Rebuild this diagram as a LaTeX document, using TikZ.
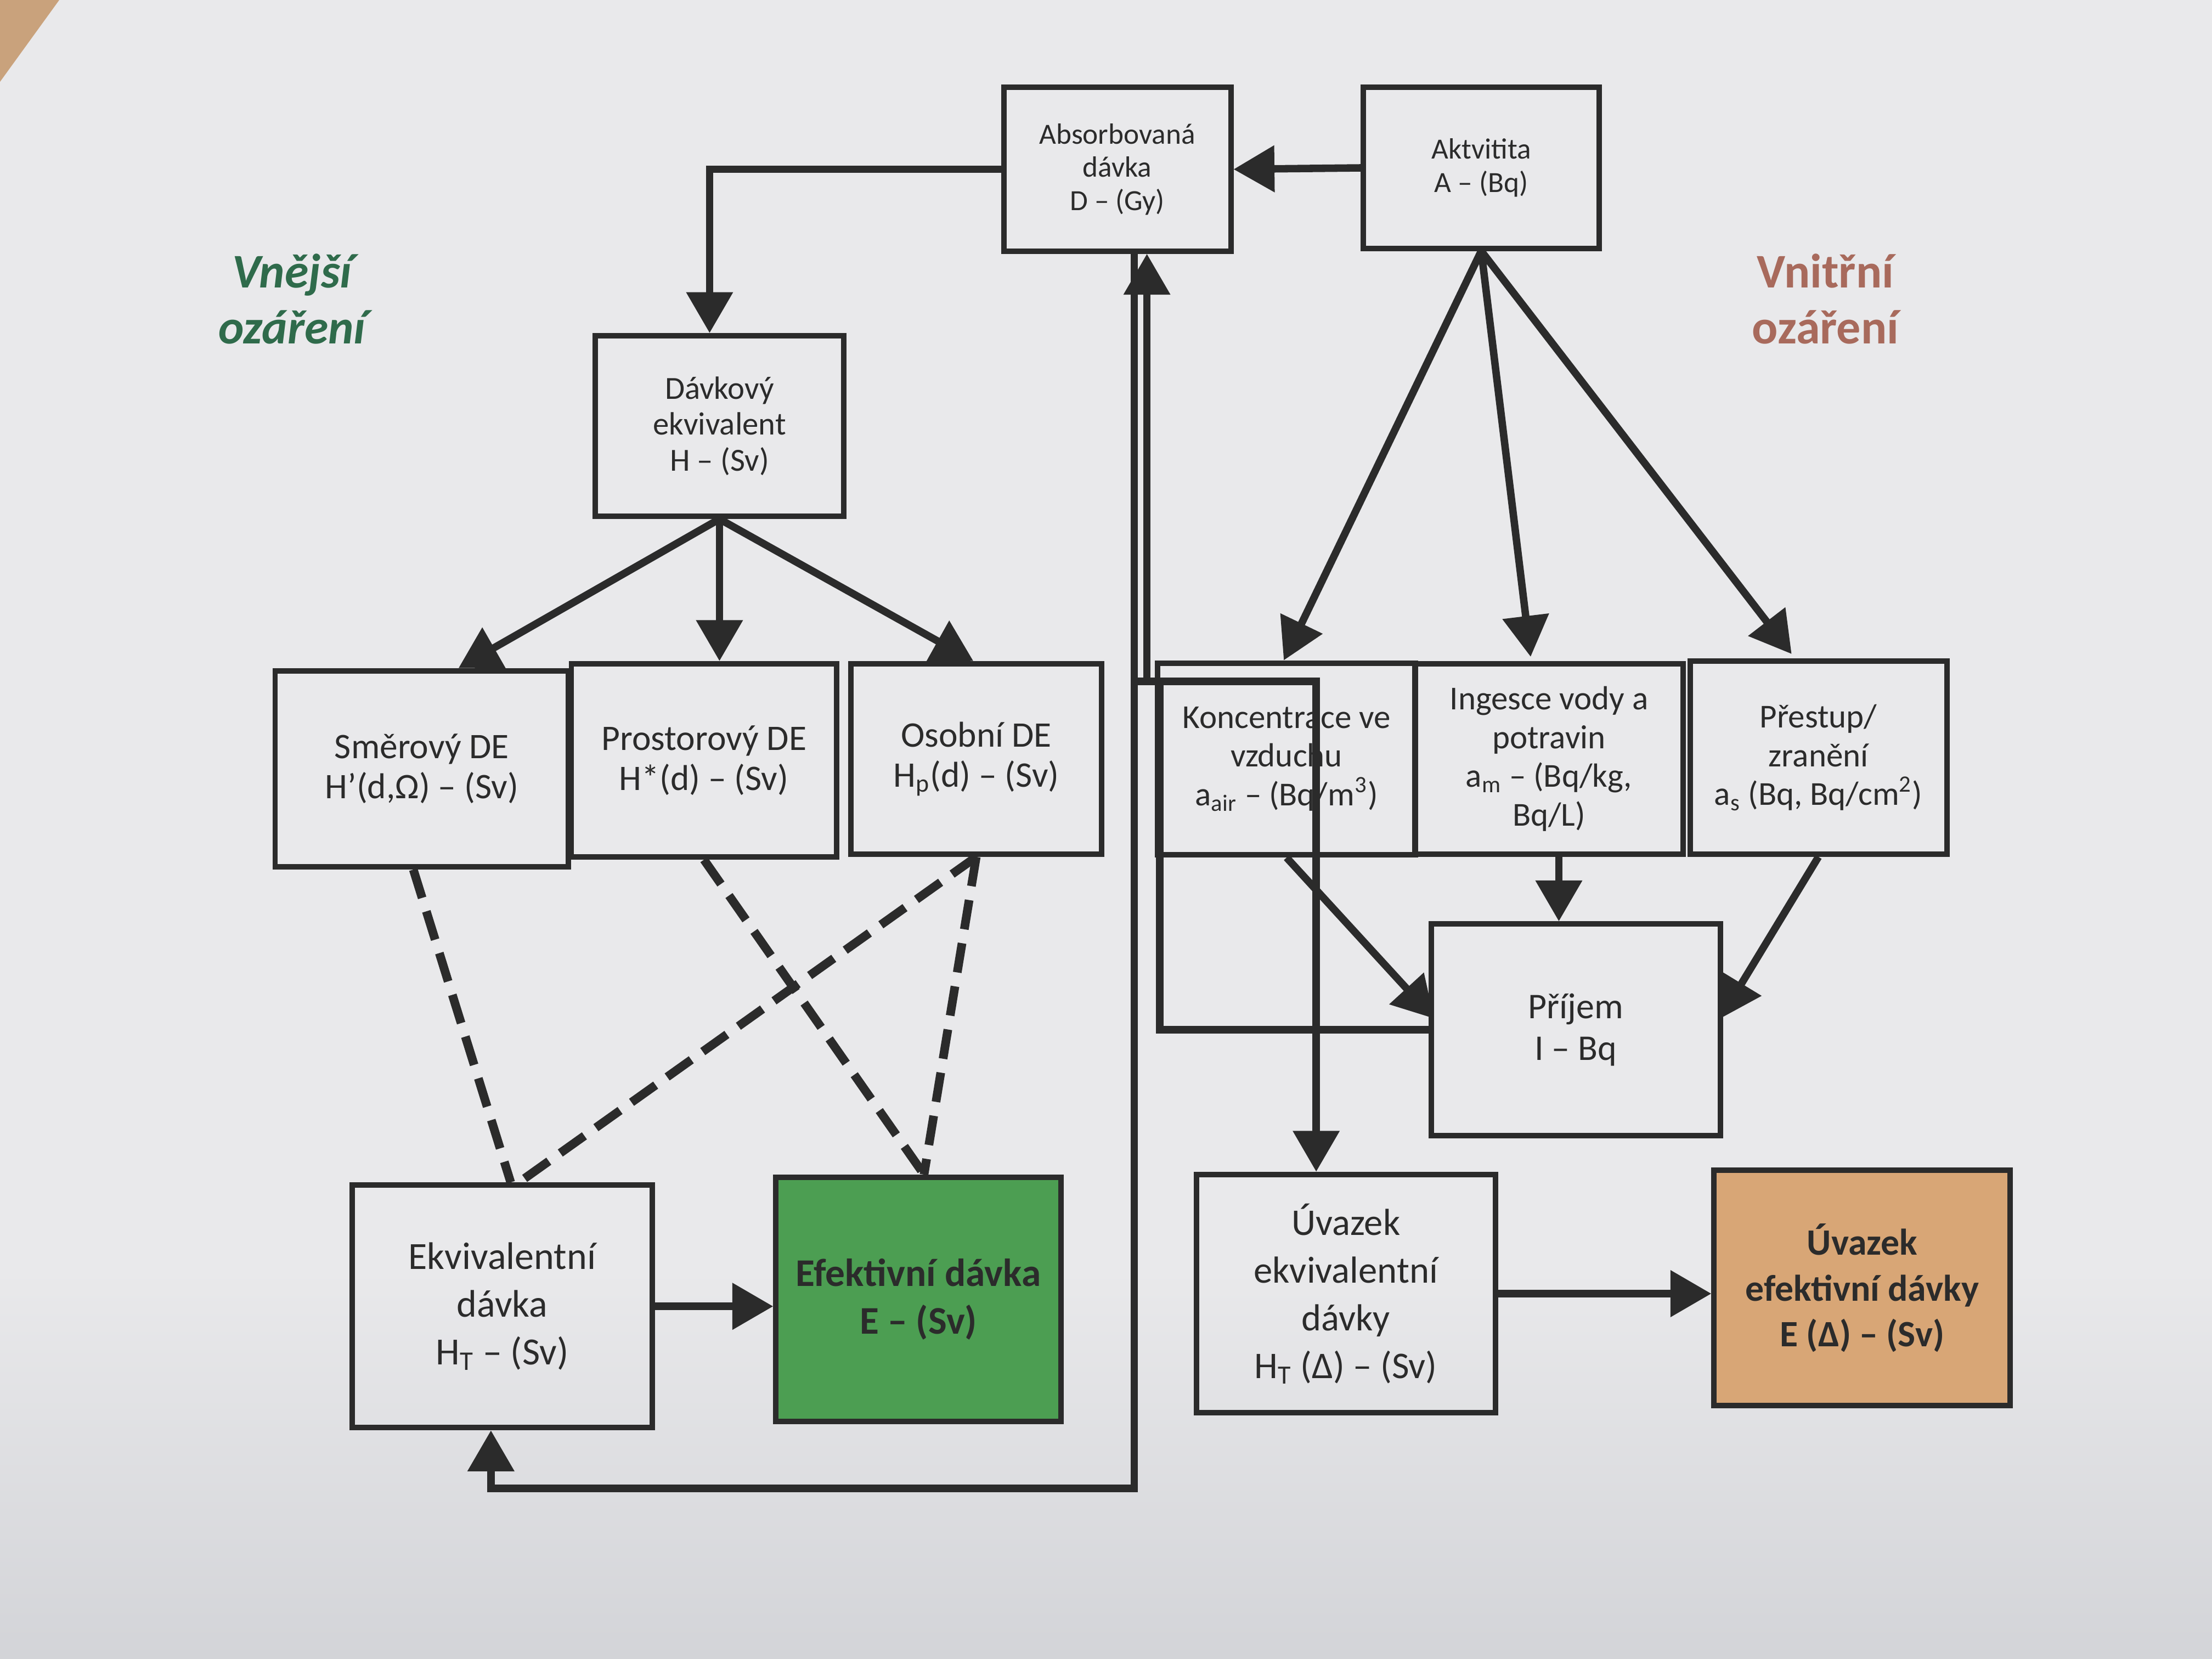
\documentclass[tikz,border=0pt]{standalone}
\usepackage{fontspec}
\setmainfont{Carlito}
\usetikzlibrary{arrows.meta,calc}
\definecolor{paper}{HTML}{E9E9EB}
\definecolor{paperdark}{HTML}{D3D4D8}
\definecolor{ink}{HTML}{2B2B2B}
\definecolor{effgreen}{HTML}{4C9E52}
\definecolor{efftan}{HTML}{D8A676}
\definecolor{extgreen}{HTML}{2F6B4B}
\definecolor{intred}{HTML}{A86A5C}
\definecolor{tablebrown}{HTML}{C9A27C}
\begin{document}
\begin{tikzpicture}[x=0.02cm,y=-0.02cm,
  box/.style={draw=ink,line width=2.2pt,align=center,inner sep=0pt,text=ink},
  fA/.style={font=\fontsize{11.8}{13.4}\selectfont},
  fB/.style={font=\fontsize{13}{14.5}\selectfont},
  fC/.style={font=\fontsize{14.5}{16.2}\selectfont},
  fD/.style={font=\fontsize{13.5}{15.6}\selectfont},
  fE/.style={font=\fontsize{14.6}{17}\selectfont},
  fF/.style={font=\fontsize{15.5}{19.3}\selectfont},
  conn/.style={draw=ink,line width=3pt},
  arr/.style={conn,-{Triangle[length=0.58cm,width=0.64cm]}},
  dsh/.style={draw=ink,line width=3.5pt,dash pattern=on 0.42cm off 0.2cm},
  sidelabel/.style={align=center,font=\fontsize{19.5}{22.5}\selectfont\bfseries}
]
% background (paper)
\fill[paper] (0,0) rectangle (1568,900);
\shade[top color=paper,bottom color=paperdark] (0,900) rectangle (1568,1176);
\fill[tablebrown] (0,0) -- (42,0) -- (0,58) -- cycle;
\useasboundingbox (0,0) rectangle (1568,1176);

% side labels
\node[sidelabel,text=extgreen,font=\fontsize{19.5}{22.5}\selectfont\bfseries\itshape] (ext) at (207,212) {Vnější\\ozáření};
\node[sidelabel,text=intred] (int) at (1294,212) {Vnitřní\\ozáření};

% boxes
\node[box,fA,minimum width=3.22cm,minimum height=2.32cm] (abs) at (792,120) {Absorbovaná\\dávka\\D – (Gy)};
\node[box,fA,minimum width=3.34cm,minimum height=2.28cm] (akt) at (1050,119) {Aktvitita\\A – (Bq)};
\node[box,fB,minimum width=3.52cm,minimum height=2.56cm] (dav) at (510,302) {Dávkový\\ekvivalent\\H – (Sv)};
\node[box,fC,minimum width=4.16cm,minimum height=2.78cm] (smer) at (299,545) {Směrový DE\\H’(d,Ω) – (Sv)};
\node[box,fC,minimum width=3.76cm,minimum height=2.74cm] (pros) at (499,539) {Prostorový DE\\H*(d) – (Sv)};
\node[box,fC,minimum width=3.56cm,minimum height=2.70cm] (osob) at (692,538) {Osobní DE\\H\textsubscript{p}(d) – (Sv)};
\node[box,fD,minimum width=3.66cm,minimum height=2.72cm] (konc) at (912,538) {Koncentrace ve\\vzduchu\\a\textsubscript{air} – (Bq/m\textsuperscript{3})};
\node[box,fD,minimum width=3.80cm,minimum height=2.70cm] (ing) at (1098,538) {Ingesce vody a\\potravin\\a\textsubscript{m} – (Bq/kg,\\Bq/L)};
\node[box,fD,minimum width=3.64cm,minimum height=2.74cm] (pres) at (1289,537) {Přestup/\\zranění\\a\textsubscript{s} (Bq, Bq/cm\textsuperscript{2})};
\node[box,fE,minimum width=4.10cm,minimum height=3.00cm] (prij) at (1117,730) {Příjem\\I – Bq};
\node[box,fF,minimum width=4.26cm,minimum height=3.44cm] (ekv) at (356,926) {Ekvivalentní\\dávka\\H\textsubscript{T} – (Sv)};
\node[box,fill=effgreen,text=ink,font=\fontsize{15.8}{19.3}\selectfont\bfseries,minimum width=4.04cm,minimum height=3.46cm] (efe) at (651,921) {Efektivní dávka\\E – (Sv)};
\node[box,font=\fontsize{15.2}{19.3}\selectfont,minimum width=4.24cm,minimum height=3.38cm] (uvek) at (954,917) {Úvazek\\ekvivalentní\\dávky\\H\textsubscript{T} (Δ) – (Sv)};
\node[box,fill=efftan,text=ink,font=\fontsize{15}{18.5}\selectfont\bfseries,minimum width=4.20cm,minimum height=3.34cm] (uvef) at (1320,913) {Úvazek\\efektivní dávky\\E (Δ) – (Sv)};

% junction coordinates
\coordinate (absL) at ($(abs.south)+(12,0)$);
\coordinate (absM) at ($(abs.south)+(21,0)$);
\coordinate (lowL) at (804,1055);
\coordinate (ekvB) at ($(ekv.south)+(-8,0)$);
\coordinate (jL) at (804,483);
\coordinate (jM) at (813,483);
\coordinate (jR) at (822,483);
\coordinate (jU) at (933,483);
\coordinate (ingB) at ($(ing.south)+(7,0)$);

% external branch
\draw[arr] (akt.west) -- (abs.east);
\draw[arr] (abs.west) -| ($(dav.north)+(-7,0)$);
\draw[arr] (dav.south) -- ($(smer.north)+(26,0)$);
\draw[arr] (dav.south) -- (dav.south |- pros.north);
\draw[arr] (dav.south) -- ($(osob.north)+(-2,0)$);
\draw[dsh] ($(smer.south)+(-6,0)$) -- ($(ekv.north)+(6,0)$);
\draw[dsh] (pros.south) -- ($(efe.north)+(4,0)$);
\draw[dsh] (osob.south) -- ($(ekv.north)+(12,0)$);
\draw[dsh] (osob.south) -- ($(efe.north)+(4,0)$);
\draw[arr] (ekv.east) -- (efe.west |- ekv.east);
\draw[arr] (absL) -- (lowL) -| (ekvB);

% internal branch
\draw[arr] (akt.south) -- ($(konc.north)+(-2,0)$);
\draw[arr] (akt.south) -- ($(ing.north)+(-13,-3)$);
\draw[arr] (akt.south) -- ($(pres.north)+(-19,-3)$);
\draw[arr] (konc.south) -- ($(prij.west)+(4,-8)$);
\draw[arr] (ingB) -- (ingB |- prij.north);
\draw[arr] (pres.south) -- ($(prij.east)+(-2,-8)$);
\draw[arr] (prij.west) -| (jR) -- (jU) -- (jU |- uvek.north);
\draw[conn] (jL) -- (jR);
\draw[arr] (jM) -- (absM);
\draw[arr] (uvek.east) -- (uvef.west |- uvek.east);
\end{tikzpicture}
\end{document}
